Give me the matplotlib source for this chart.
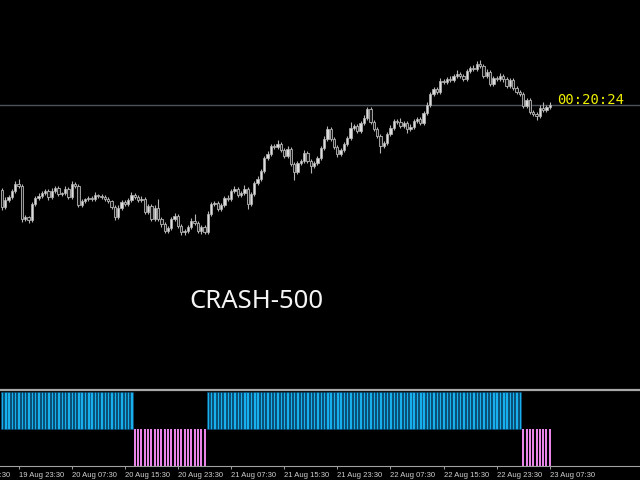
import matplotlib
matplotlib.use("Agg")
import matplotlib.pyplot as plt
import numpy as np
import pandas as pd
from matplotlib.lines import Line2D
from matplotlib.transforms import offset_copy

# 30 minute candles, price in index points
first_open = 210
closes = [193, 200, 203, 209, 216, 214, 181, 183, 180, 196,
          202, 204, 207, 209, 203, 209, 212, 206, 207, 211,
          203, 216, 214, 195, 199, 201, 202, 201, 205, 204,
          203, 201, 199, 193, 183, 192, 198, 196, 200, 205,
          203, 200, 201, 188, 194, 181, 192, 181, 176, 169,
          172, 181, 184, 174, 168, 169, 173, 179, 177, 169,
          173, 168, 186, 196, 197, 191, 195, 202, 201, 209,
          211, 205, 207, 211, 196, 206, 217, 221, 229, 242,
          246, 254, 253, 256, 250, 244, 251, 236, 228, 237,
          239, 247, 239, 234, 237, 242, 252, 261, 271, 261,
          253, 246, 250, 256, 262, 272, 274, 269, 277, 282,
          291, 278, 271, 264, 254, 257, 266, 272, 279, 278,
          274, 277, 271, 273, 279, 281, 277, 287, 295, 306,
          311, 308, 319, 318, 321, 320, 324, 326, 324, 321,
          329, 332, 331, 336, 334, 324, 328, 316, 322, 321,
          324, 321, 314, 320, 312, 308, 306, 294, 300, 288,
          286, 284, 292, 290, 293, 295]
upper_wick = [2, 3, 2, 2, 3, 5, 2, 2, 1, 2,
              2, 3, 2, 2, 2, 3, 2, 2, 1, 3,
              2, 3, 2, 2, 2, 1, 2, 2, 3, 1,
              2, 2, 2, 1, 2, 3, 2, 2, 2, 3,
              2, 2, 3, 2, 2, 2, 3, 9, 2, 2,
              2, 2, 3, 2, 2, 2, 2, 3, 7, 2,
              2, 2, 3, 2, 2, 2, 2, 2, 3, 2,
              3, 2, 2, 4, 2, 2, 2, 3, 2, 2,
              3, 2, 2, 4, 2, 2, 3, 2, 2, 2,
              2, 3, 2, 2, 2, 2, 2, 3, 3, 2,
              2, 2, 2, 2, 2, 6, 2, 2, 2, 3,
              2, 2, 2, 2, 2, 2, 2, 3, 2, 2,
              4, 2, 2, 3, 2, 2, 2, 2, 3, 2,
              2, 2, 3, 2, 2, 3, 2, 4, 2, 2,
              2, 2, 3, 3, 4, 2, 3, 2, 2, 2,
              3, 2, 2, 2, 2, 2, 2, 2, 2, 2,
              2, 2, 3, 6, 2, 3]
lower_wick = [3, 2, 2, 2, 2, 2, 3, 2, 3, 2,
              2, 2, 2, 2, 3, 2, 2, 2, 2, 2,
              2, 2, 2, 2, 2, 2, 2, 2, 2, 2,
              2, 2, 2, 2, 3, 2, 2, 2, 2, 2,
              2, 2, 2, 2, 2, 2, 2, 2, 3, 2,
              2, 2, 2, 2, 3, 3, 2, 2, 2, 2,
              3, 2, 2, 2, 2, 2, 2, 2, 2, 2,
              2, 2, 2, 2, 5, 2, 2, 2, 2, 2,
              2, 2, 2, 2, 2, 2, 2, 2, 8, 2,
              2, 2, 2, 7, 2, 2, 2, 2, 2, 2,
              2, 3, 2, 2, 2, 2, 2, 2, 2, 2,
              2, 2, 2, 2, 7, 2, 2, 2, 2, 2,
              2, 2, 4, 2, 2, 2, 2, 2, 2, 2,
              2, 2, 2, 2, 2, 2, 2, 2, 2, 2,
              2, 2, 2, 2, 2, 2, 2, 2, 2, 2,
              2, 3, 2, 2, 2, 2, 2, 2, 2, 2,
              2, 4, 2, 2, 2, 2]
# trend indicator: 1 = up (blue), -1 = down (violet)
trend = [1] * 40 + [-1] * 22 + [1] * 95 + [-1] * 9
symbol = "CRASH-500"
timer = "00:20:24"

closes = np.array(closes, dtype=float)
opens = np.concatenate([[first_open], closes[:-1]])
highs = np.maximum(opens, closes) + np.array(upper_wick)
lows = np.minimum(opens, closes) - np.array(lower_wick)
trend = np.array(trend)
idx = np.arange(len(closes))
times = pd.date_range("2024-08-19 21:00", periods=len(closes), freq="30min")

fig = plt.figure(figsize=(6.4, 4.8), dpi=100, facecolor="black")
ax = fig.add_axes([0, 92 / 480, 1, 388 / 480], facecolor="black")
ind = fig.add_axes([0, 14 / 480, 1, 74 / 480], facecolor="black")

xlim = (-2 / 3.32, 638 / 3.32)

# candles
ax.vlines(idx, lows, highs, color="#b4b4b4", lw=0.8, zorder=1)
bull = closes >= opens
body = np.where(np.abs(closes - opens) < 0.5, 0.5, closes - opens)
ax.bar(idx[bull], body[bull], bottom=opens[bull], width=0.7,
       color="#dcdcdc", edgecolor="#b8b8b8", lw=0.5, zorder=2)
ax.bar(idx[~bull], body[~bull], bottom=opens[~bull], width=0.7,
       color="#181818", edgecolor="#b8b8b8", lw=0.6, zorder=2)

# bid line and countdown
ax.axhline(closes[-1], color="#4c525a", lw=1.0, zorder=0)
ax.annotate(timer, xy=(idx[-1], closes[-1]), xytext=(7, 1),
            textcoords="offset pixels", color="#f0f000",
            family="DejaVu Sans Mono", fontsize=10, va="baseline")

ax.text(256 / 640, (388 - 301) / 388, symbol, transform=ax.transAxes,
        ha="center", va="center", color="#f4f4f4",
        family="Noto Sans", fontsize=18.5)

ax.set_xlim(*xlim)
ax.set_ylim(12, 400)
ax.set_axis_off()

# indicator window
ind.bar(idx[trend > 0], 1, width=0.72, color="#18b0ec",
        edgecolor="#0a4a78", lw=0.4)
ind.bar(idx[trend < 0], -1, width=0.6, color="#e884e8", lw=0)
ind.set_xlim(*xlim)
ind.set_ylim(-1.0, 1.0)
ind.set_yticks([])
for s in ["top", "left", "right"]:
    ind.spines[s].set_visible(False)
ind.spines["bottom"].set_color("#a0a0a0")
ind.spines["bottom"].set_linewidth(0.8)

tick_pos = idx[5::16]
tick_lab = [times[i].strftime("%d %b %H:%M") for i in tick_pos]
ind.set_xticks(tick_pos)
ind.set_xticklabels(tick_lab, ha="left", family="Liberation Sans",
                    fontsize=5.5, color="#d0d0d0")
ind.tick_params(axis="x", direction="out", length=2.5, width=0.7,
                color="#a0a0a0", pad=1.5)
# label of the tick just left of the window, cut by the edge
prev_t = times[5] - pd.Timedelta(hours=8)
lab_tr = offset_copy(ind.get_xaxis_transform(), fig=fig, y=-4.5, units="points")
ind.text(5 - 16, 0, prev_t.strftime("%d %b %H:%M"), transform=lab_tr,
         ha="left", va="top", family="Liberation Sans", fontsize=5.5,
         color="#d0d0d0", clip_on=False)

# separator between the windows
fig.add_artist(Line2D([0, 1], [1 - 390 / 480] * 2, transform=fig.transFigure,
                      color="#a8a8a8", lw=1.6))

fig.savefig("out.png", dpi=100, facecolor="black")
